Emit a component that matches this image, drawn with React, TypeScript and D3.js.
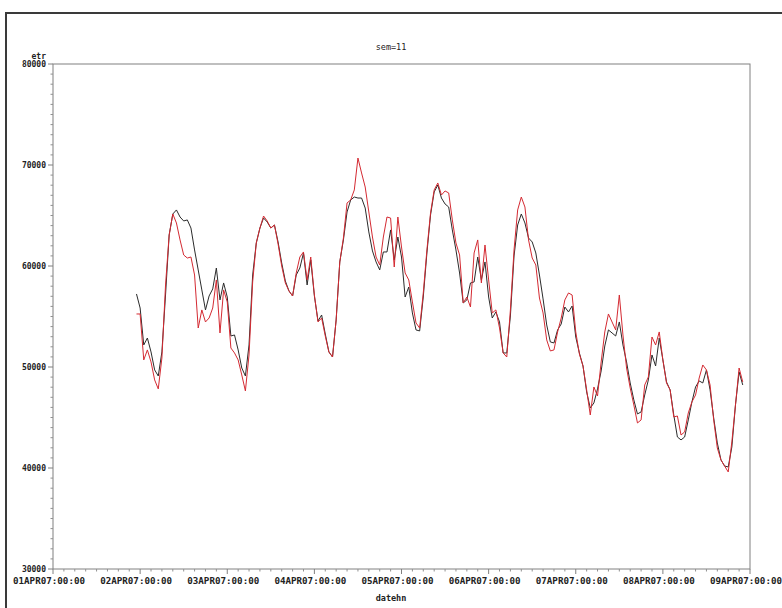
import React from "react";
import * as d3 from "d3";

// hourly observations starting 01APR07 23:00 (UTC)
const seriesStart = Date.UTC(2007, 3, 1, 23);

const etrBlack = [
  57230, 55840, 52180, 52870, 51490, 49710, 49110, 51490, 57130, 63070,
  65150, 65550, 64850, 64460, 64560, 63760, 61590, 59610, 57630, 55650,
  57030, 57730, 59800, 56640, 58320, 56930, 53070, 53170, 51690, 49900,
  49110, 52180, 59110, 62280, 63760, 64750, 64360, 63760, 64060, 62380,
  60300, 58520, 57530, 57030, 59110, 59800, 61290, 58120, 60600, 57030,
  54560, 55150, 53270, 51490, 50990, 54660, 60400, 62580, 65350, 66540,
  66830, 66730, 66730, 65740, 63370, 61490, 60400, 59610, 61390, 61390,
  63570, 60600, 62870, 60890, 56930, 57920, 55350, 53670, 53570, 56930,
  61290, 65050, 67330, 68020, 66730, 66140, 65840, 63570, 61590, 59310,
  56340, 56640, 58320, 58420, 60890, 58620, 60400, 56930, 54850, 55450,
  54460, 51390, 51390, 55050, 60990, 64060, 65150, 64260, 62770, 62380,
  61290, 59110, 56740, 54160, 52480, 52380, 53670, 54260, 55940, 55450,
  56040, 52970, 51390, 50100, 47530, 45940, 46440, 47830, 49610, 52080,
  53670, 53370, 53070, 54460, 52180, 50500, 48420, 46740, 45350, 45550,
  47230, 48720, 51190, 50100, 52870, 50700, 48520, 47730, 45250, 43070,
  42780, 43070, 44760, 46540, 48020, 48620, 48420, 49710, 47730, 44950,
  42480, 40800, 40200, 40100, 42080, 46240, 49510, 48220,
];

const etrRed = [
  55250, 55250, 50700, 51690, 50500, 48720, 47830, 50890, 58120, 63070,
  65150, 64260, 62580, 61090, 60790, 60890, 59110, 53860, 55650, 54460,
  54850, 55840, 58620, 53370, 57630, 56440, 51880, 51390, 50700, 49210,
  47630, 51190, 58420, 62280, 63760, 64950, 64460, 63760, 64060, 62180,
  60000, 58320, 57530, 57030, 59310, 60890, 61390, 58620, 60890, 57130,
  54460, 54850, 53070, 51490, 50990, 54660, 60400, 62770, 66240, 66540,
  67530, 70690, 69210, 67820, 65350, 62870, 60890, 60100, 62870, 64850,
  64750, 59900, 64850, 61880, 59310, 58620, 56440, 54360, 53860, 57330,
  61590, 65250, 67530, 68220, 67030, 67430, 67230, 64560, 62280, 61090,
  56340, 56930, 55940, 61290, 62580, 58320, 62080, 58620, 55350, 55650,
  53860, 51390, 50990, 55650, 61590, 65550, 66830, 65840, 62580, 60790,
  60100, 56830, 55350, 52680, 51590, 51690, 53470, 54850, 56640, 57330,
  57130, 53470, 51290, 50100, 47730, 45250, 48020, 47130, 50500, 53470,
  55250, 54460, 53670, 57130, 53170, 49900, 47920, 46240, 44460, 44760,
  48220, 49010, 52970, 52180, 53470, 50700, 48420, 47730, 45050, 45150,
  43270, 43570, 45450, 46540, 47230, 48910, 50200, 49710, 48220, 44760,
  41980, 40800, 40200, 39610, 42580, 46240, 49900, 48520,
];

const yMajorTicks = [30000, 40000, 50000, 60000, 70000, 80000];
const dayTicks = [
  "2007-04-01", "2007-04-02", "2007-04-03", "2007-04-04", "2007-04-05",
  "2007-04-06", "2007-04-07", "2007-04-08", "2007-04-09",
];
const titleText = "sem=11";
const yAxisLabel = "etr";
const xAxisLabel = "datehn";

const W = 782;
const H = 608;
const plot = { left: 53, right: 750, top: 64, bottom: 569 };
const FONT = "'DejaVu Sans Mono', 'Liberation Mono', monospace";

export default function App() {
  const dayDates = dayTicks.map((d) => new Date(d + "T00:00:00Z"));
  const x = d3
    .scaleUtc()
    .domain([dayDates[0], dayDates[dayDates.length - 1]])
    .range([plot.left, plot.right]);
  const y = d3.scaleLinear().domain([30000, 80000]).range([plot.bottom, plot.top]);

  const times = etrBlack.map((_, i) => new Date(seriesStart + i * 3600 * 1000));
  const line = d3
    .line<number>()
    .x((_, i) => x(times[i]))
    .y((v) => y(v));

  const minorX = d3.utcHour
    .every(3)!
    .range(dayDates[0], new Date(+dayDates[dayDates.length - 1] + 1))
    .filter((d) => d.getUTCHours() !== 0);
  const minorY = d3.range(30000, 80001, 1000).filter((v) => v % 10000 !== 0);
  const fmt = d3.utcFormat("%d%b%y:%H:%M");

  return (
    <svg
      width={W}
      height={H}
      style={{ position: "absolute", left: 0, top: 0, background: "#fff" }}
    >
      <rect x={0} y={0} width={W} height={H} fill="#fff" />
      {/* outer frame */}
      <rect x={6} y={13} width={W + 20} height={H + 20} fill="none" stroke="#3a3a3a" strokeWidth={2} />

      <text x={391} y={50} textAnchor="middle" fontFamily={FONT} fontSize={8.5} fill="#222">
        {titleText}
      </text>
      <text x={46} y={59} textAnchor="end" fontFamily={FONT} fontSize={8} fontWeight="bold" fill="#222">
        {yAxisLabel}
      </text>
      <text x={391} y={601} textAnchor="middle" fontFamily={FONT} fontSize={8.5} fontWeight="bold" fill="#222">
        {xAxisLabel}
      </text>

      {/* plot box */}
      <rect
        x={plot.left}
        y={plot.top}
        width={plot.right - plot.left}
        height={plot.bottom - plot.top}
        fill="none"
        stroke="#808080"
        strokeWidth={1}
      />

      {/* y axis ticks */}
      {minorY.map((v) => (
        <line key={"my" + v} x1={plot.left - 2.5} x2={plot.left} y1={y(v)} y2={y(v)} stroke="#909090" />
      ))}
      {yMajorTicks.map((v) => (
        <g key={"y" + v}>
          <line x1={plot.left - 5} x2={plot.left} y1={y(v)} y2={y(v)} stroke="#808080" />
          <text
            x={46}
            y={y(v) + 3}
            textAnchor="end"
            fontFamily={FONT}
            fontSize={8}
            fontWeight="bold"
            fill="#222"
          >
            {v}
          </text>
        </g>
      ))}

      {/* x axis ticks */}
      {minorX.map((d) => (
        <line key={"mx" + +d} x1={x(d)} x2={x(d)} y1={plot.bottom} y2={plot.bottom + 2.5} stroke="#909090" />
      ))}
      {dayDates.map((d) => (
        <g key={"x" + +d}>
          <line x1={x(d)} x2={x(d)} y1={plot.bottom} y2={plot.bottom + 5} stroke="#808080" />
          <text
            x={x(d) - 4}
            y={584}
            textAnchor="middle"
            fontFamily={FONT}
            fontSize={8.5}
            fontWeight="bold"
            fill="#222"
            textLength={72}
            lengthAdjust="spacingAndGlyphs"
          >
            {fmt(d).toUpperCase()}
          </text>
        </g>
      ))}

      {/* series */}
      <path d={line(etrBlack) ?? ""} fill="none" stroke="#2b2b2b" strokeWidth={1} />
      <path d={line(etrRed) ?? ""} fill="none" stroke="#d42a32" strokeWidth={1} />
    </svg>
  );
}
